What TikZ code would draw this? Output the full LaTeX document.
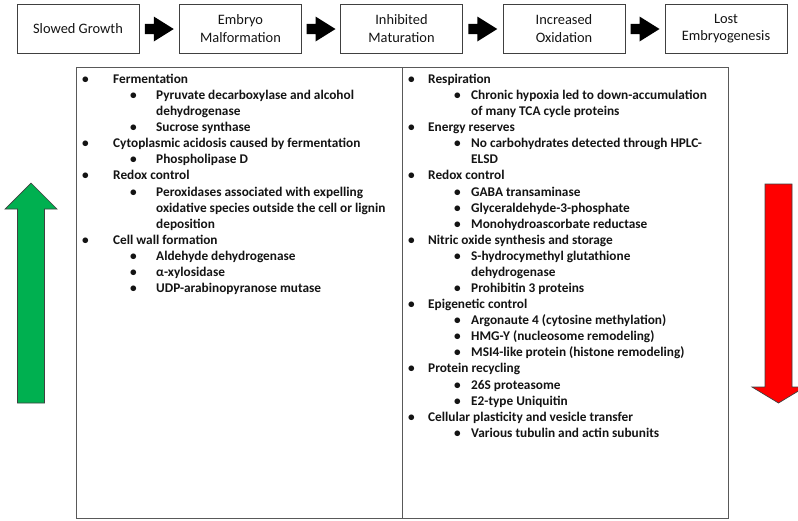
\documentclass[tikz,border=0pt]{standalone}
\usepackage{fontspec}
\setmainfont{Carlito}
\usetikzlibrary{calc}
\definecolor{arrgreen}{HTML}{00B050}
\definecolor{arrred}{HTML}{FF0000}
\definecolor{boxline}{HTML}{404040}
\definecolor{txt}{HTML}{141414}
% #2 = index of the LAST line of the item (the base anchor is the last baseline)
\newcommand{\LineY}[1]{83.5+16.08*#1}
\newcommand{\LAone}[3]{\node[lone] (#1) at (113,{\LineY{#2}}) {\llap{•\hspace{24.5pt}}#3};}
\newcommand{\LAtwo}[3]{\node[lone] (#1) at (156,{\LineY{#2}}) {\llap{•\hspace{19.5pt}}#3};}
\newcommand{\RAone}[3]{\node[lone] (#1) at (428,{\LineY{#2}}) {\llap{•\hspace{13.5pt}}#3};}
\newcommand{\RAtwo}[3]{\node[lone] (#1) at (471,{\LineY{#2}}) {\llap{•\hspace{10.5pt}}#3};}
\begin{document}
\begin{tikzpicture}[x=1pt,y=-1pt,
  stage/.style={draw=boxline, line width=1pt, minimum width=122pt, minimum height=49pt,
    align=center, inner sep=0pt, text=txt, font=\fontsize{14.4}{17.6}\selectfont},
  lone/.style={anchor=base west, align=left, inner sep=0pt, text=txt,
    font=\bfseries\fontsize{13.3}{16.08}\selectfont},
  toparrow/.pic={\fill[black] (-14.5,-5.2) -- (-5.5,-5.2) -- (-5.5,-12.5) -- (14.5,0)
     -- (-5.5,12.5) -- (-5.5,5.2) -- (-14.5,5.2) -- cycle;},
  bigarrow/.style={draw=black!75, line width=0.7pt, line join=miter}]
\useasboundingbox (0,0) rectangle (798,520);
\fill[white] (0,0) rectangle (798,520);
% stage boxes
\node[stage] (s1) at (78,28.5) {Slowed Growth};
\node[stage] (s2) at (240.5,28.5) {Embryo\\Malformation};
\node[stage] (s3) at (401.5,28.5) {Inhibited\\Maturation};
\node[stage] (s4) at (564,28.5) {Increased\\Oxidation};
\node[stage] (s5) at (726,28.5) {Lost\\Embryogenesis};
\pic at ($(s1.east)!0.5!(s2.west)+(0,0.5)$) {toparrow};
\pic at ($(s2.east)!0.5!(s3.west)+(0,0.5)$) {toparrow};
\pic at ($(s3.east)!0.5!(s4.west)+(0,0.5)$) {toparrow};
\pic at ($(s4.east)!0.5!(s5.west)+(0,0.5)$) {toparrow};
% main table
\coordinate (tl) at (76,67);
\coordinate (br) at (728,518);
\draw[draw=black!65, line width=1pt] (tl) rectangle (br);
\draw[draw=black!65, line width=1pt] (402,67) -- (402,518);
% left column
\LAone{l0}{0}{Fermentation}
\LAtwo{l1}{2}{Pyruvate decarboxylase and alcohol\\dehydrogenase}
\LAtwo{l3}{3}{Sucrose synthase}
\LAone{l4}{4}{Cytoplasmic acidosis caused by fermentation}
\LAtwo{l5}{5}{Phospholipase D}
\LAone{l6}{6}{Redox control}
\LAtwo{l7}{9}{Peroxidases associated with expelling\\oxidative species outside the cell or lignin\\deposition}
\LAone{l10}{10}{Cell wall formation}
\LAtwo{l11}{11}{Aldehyde dehydrogenase}
\LAtwo{l12}{12}{α-xylosidase}
\LAtwo{l13}{13}{UDP-arabinopyranose mutase}
% right column
\RAone{r0}{0}{Respiration}
\RAtwo{r1}{2}{Chronic hypoxia led to down-accumulation\\of many TCA cycle proteins}
\RAone{r3}{3}{Energy reserves}
\RAtwo{r4}{5}{No carbohydrates detected through HPLC-\\ELSD}
\RAone{r6}{6}{Redox control}
\RAtwo{r7}{7}{GABA transaminase}
\RAtwo{r8}{8}{Glyceraldehyde-3-phosphate}
\RAtwo{r9}{9}{Monohydroascorbate reductase}
\RAone{r10}{10}{Nitric oxide synthesis and storage}
\RAtwo{r11}{12}{S-hydrocymethyl glutathione\\dehydrogenase}
\RAtwo{r13}{13}{Prohibitin 3 proteins}
\RAone{r14}{14}{Epigenetic control}
\RAtwo{r15}{15}{Argonaute 4 (cytosine methylation)}
\RAtwo{r16}{16}{HMG-Y (nucleosome remodeling)}
\RAtwo{r17}{17}{MSI4-like protein (histone remodeling)}
\RAone{r18}{18}{Protein recycling}
\RAtwo{r19}{19}{26S proteasome}
\RAtwo{r20}{20}{E2-type Uniquitin}
\RAone{r21}{21}{Cellular plasticity and vesicle transfer}
\RAtwo{r22}{22}{Various tubulin and actin subunits}
% big arrows
\draw[bigarrow, fill=arrgreen] (31,183) -- (57,209) -- (44.5,209) -- (44.5,403)
  -- (17.5,403) -- (17.5,209) -- (5,209) -- cycle;
\draw[bigarrow, fill=arrred] (778.5,403) -- (805,387) -- (792,387) -- (792,184)
  -- (765,184) -- (765,387) -- (752,387) -- cycle;
\end{tikzpicture}
\end{document}
